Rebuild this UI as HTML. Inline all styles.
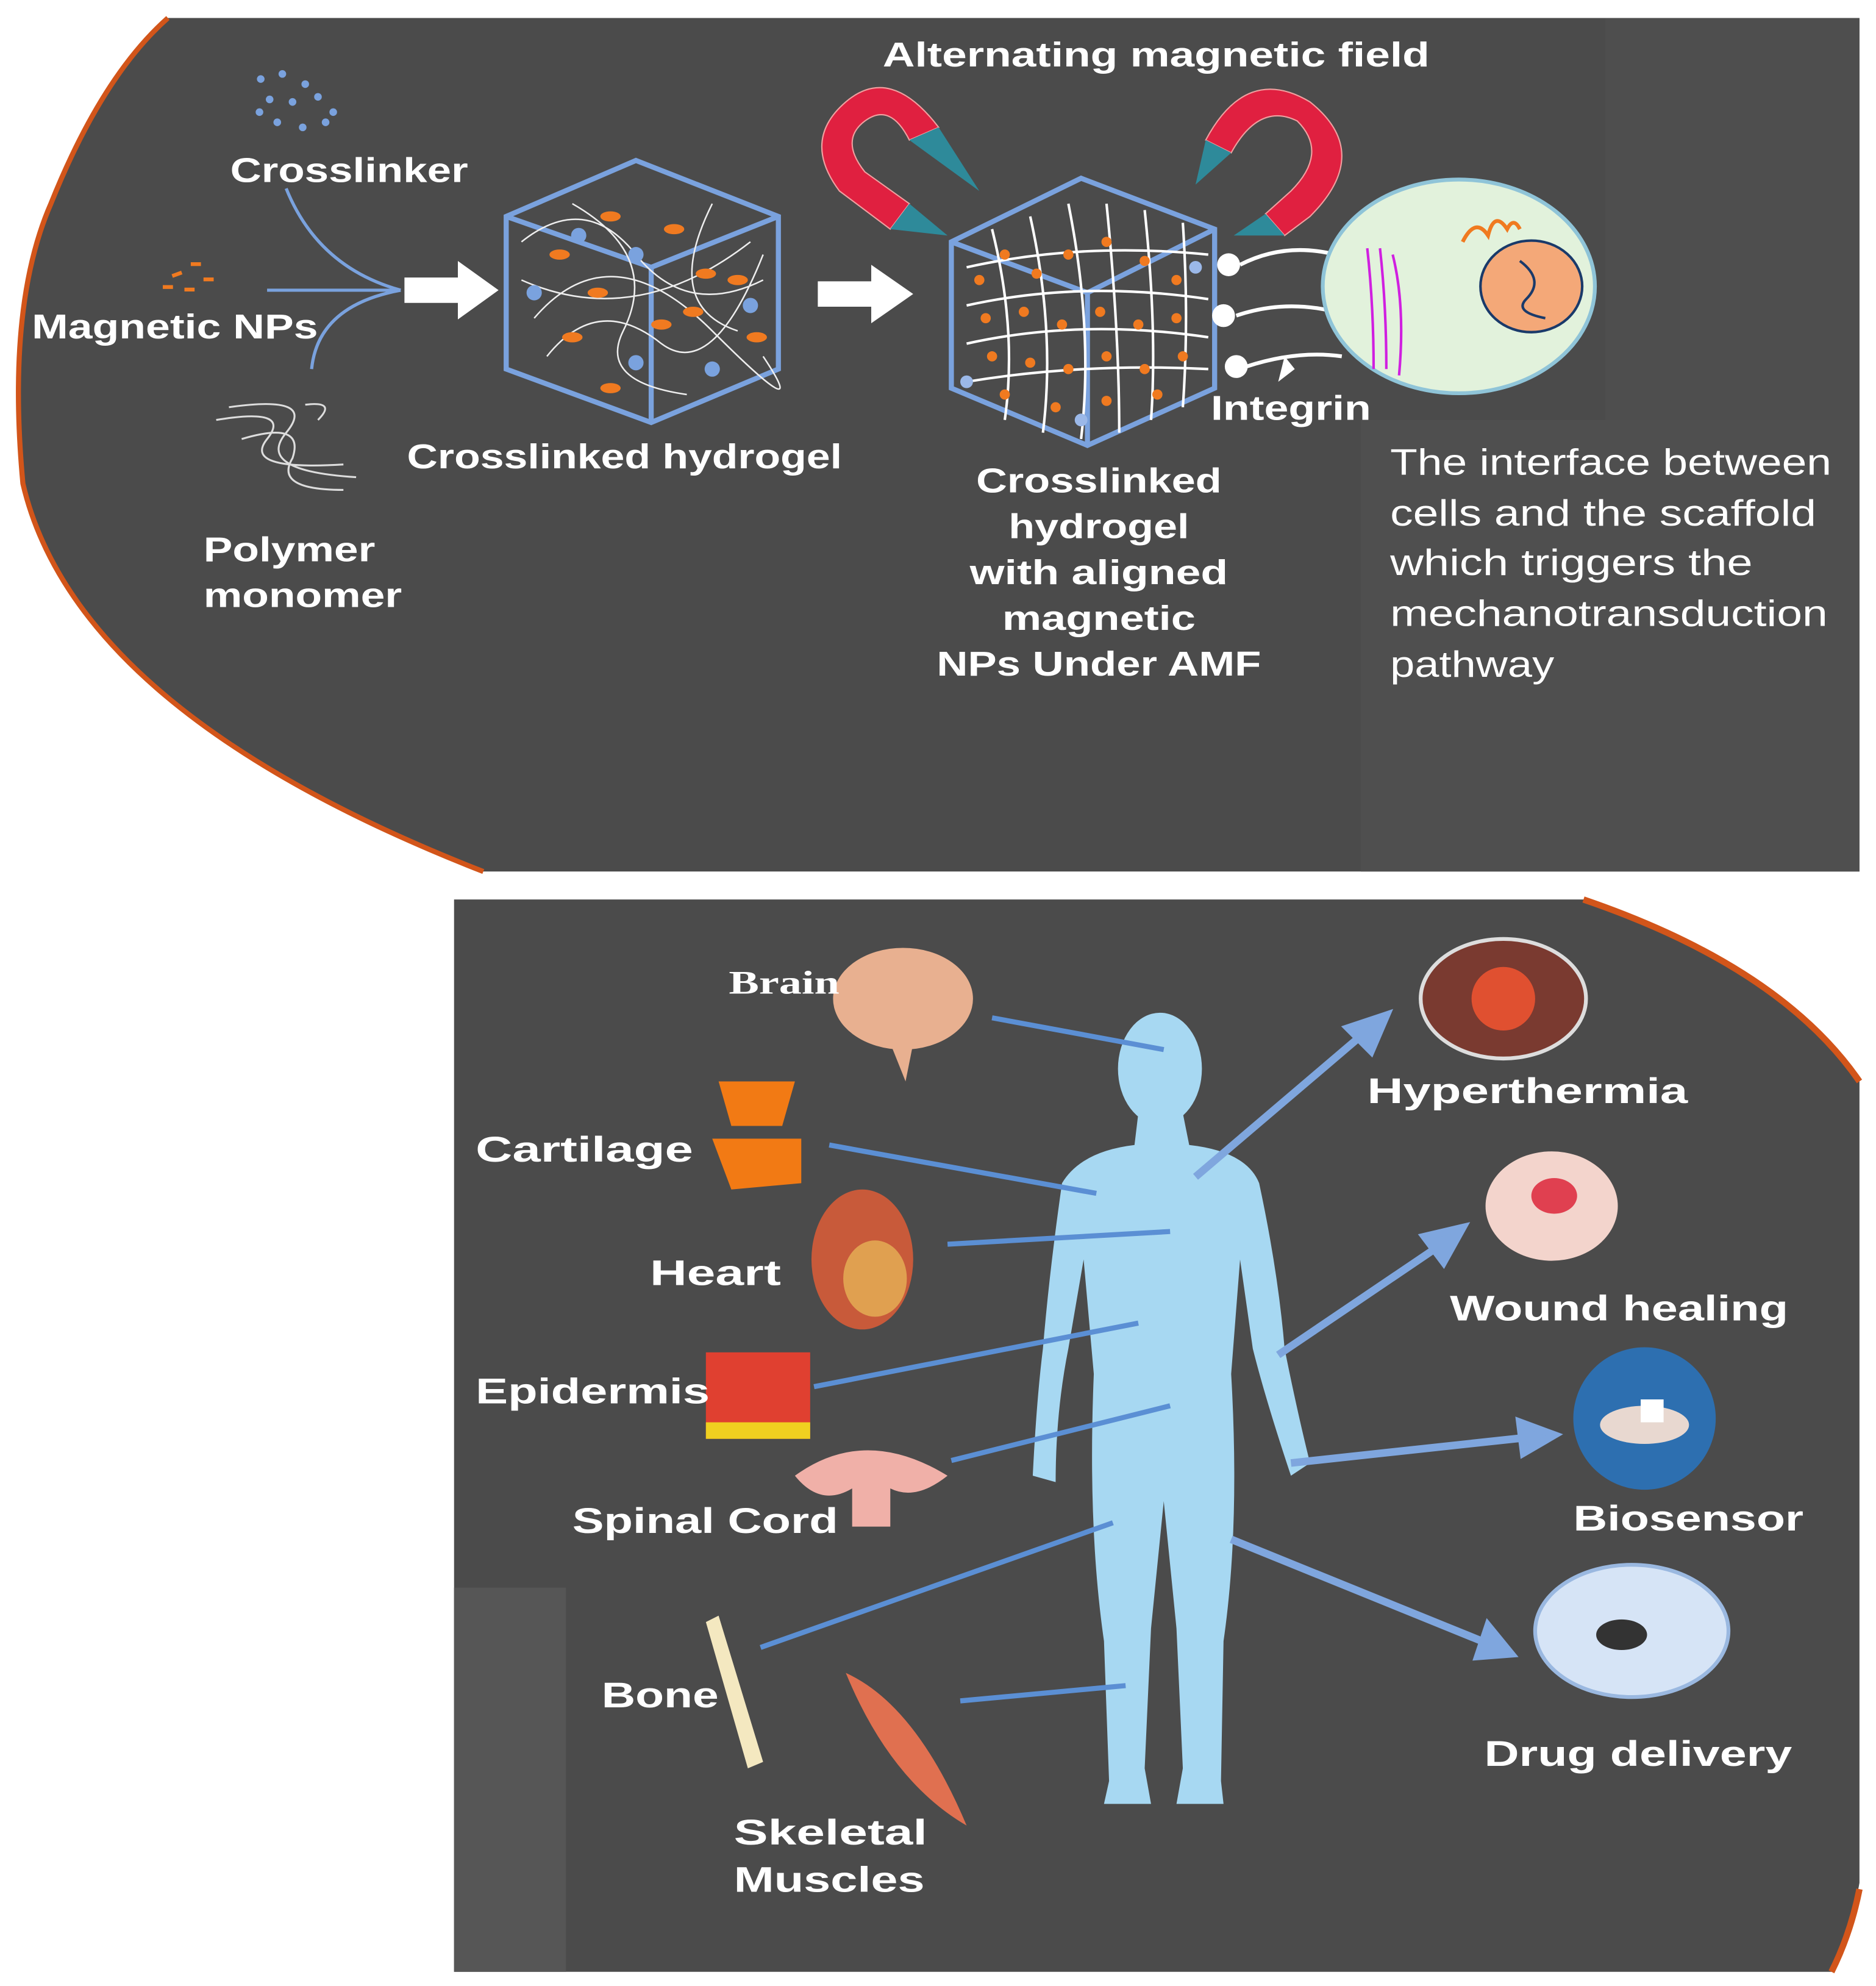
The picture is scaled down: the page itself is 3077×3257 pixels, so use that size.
<!DOCTYPE html>
<html><head><meta charset="utf-8"><style>
html,body{margin:0;padding:0;background:#fff}
svg{display:block}
text{font-family:"Liberation Sans",sans-serif;fill:#fff;font-weight:bold}
</style></head><body>
<svg width="3077" height="3257" viewBox="0 0 1475 1561" xmlns="http://www.w3.org/2000/svg">
<rect width="1475" height="1561" fill="#fff"/>
<!-- top panel -->
<path d="M132,14 L1462,14 L1462,685 L380,685 Q60,560 18,380 Q5,240 40,160 Q80,60 132,14 Z" fill="#4b4b4b"/>
<path d="M380,685 Q60,560 18,380 Q5,240 40,160 Q80,60 132,14" fill="none" stroke="#d2551a" stroke-width="4"/>
<rect x="1070" y="330" width="392" height="355" fill="#4f4f4f"/>
<rect x="1262" y="14" width="200" height="316" fill="#4e4e4e"/>
<!-- bottom panel -->
<path d="M357,707 L1245,707 Q1400,760 1462,850 L1462,1480 Q1455,1520 1440,1550 L357,1550 Z" fill="#4b4b4b"/>
<path d="M1245,707 Q1400,760 1462,850" fill="none" stroke="#d2551a" stroke-width="5"/>
<path d="M1462,1485 Q1455,1520 1440,1550" fill="none" stroke="#d2551a" stroke-width="5"/>
<rect x="357" y="1248" width="88" height="302" fill="#565656"/>

<!-- crosslinker dots -->
<g fill="#7aa2de">
<circle cx="205" cy="62" r="3"/><circle cx="222" cy="58" r="3"/><circle cx="240" cy="66" r="3"/><circle cx="212" cy="78" r="3"/><circle cx="230" cy="80" r="3"/><circle cx="250" cy="76" r="3"/><circle cx="262" cy="88" r="3"/><circle cx="218" cy="96" r="3"/><circle cx="238" cy="100" r="3"/><circle cx="256" cy="96" r="3"/><circle cx="204" cy="88" r="3"/>
</g>
<g fill="#f07a20"><rect x="135" y="214" width="8" height="3" transform="rotate(-20 139 215)"/><rect x="150" y="206" width="8" height="3"/><rect x="160" y="218" width="8" height="3"/><rect x="128" y="224" width="8" height="3"/><rect x="145" y="226" width="8" height="3"/></g>
<text x="181" y="143" font-size="27" textLength="187" lengthAdjust="spacingAndGlyphs">Crosslinker</text>
<text x="25" y="266" font-size="27" textLength="225" lengthAdjust="spacingAndGlyphs">Magnetic NPs</text>
<path d="M225,148 Q250,210 315,228 M210,228 L315,228 M245,290 Q250,240 315,228" fill="none" stroke="#7aa2de" stroke-width="2.5"/>
<path d="M318,218 L360,218 L360,205 L392,228 L360,251 L360,238 L318,238 Z" fill="#fff"/>
<g fill="none" stroke="#ddd" stroke-width="1.5"><path d="M170,330 Q230,320 210,345 Q190,370 270,365"/><path d="M180,320 Q250,310 225,340 Q200,370 280,375"/><path d="M190,345 Q240,330 230,360 Q215,385 270,385"/><path d="M240,318 Q265,315 250,330"/></g>
<text x="160" y="441" font-size="27" textLength="135" lengthAdjust="spacingAndGlyphs">Polymer</text>
<text x="160" y="477" font-size="27" textLength="156" lengthAdjust="spacingAndGlyphs">monomer</text>
<!-- cube 1 -->
<g fill="none" stroke="#7aa2de" stroke-width="4">
<path d="M398,170 L500,126 L612,170 L612,290 L512,332 L398,290 Z"/><path d="M398,170 L512,210 L612,170 M512,210 L512,332"/></g>
<g fill="none" stroke="#eee" stroke-width="1.2"><path d="M410,190 Q460,150 500,200 T600,220 M420,250 Q480,180 560,260 T600,280 M430,280 Q470,230 520,270 Q560,300 600,200 M450,160 Q520,200 490,260 Q470,300 540,310 M560,160 Q520,240 580,260 M410,220 Q500,260 590,190"/></g>
<g fill="#f07a20"><ellipse cx="440" cy="200" rx="8" ry="4"/><ellipse cx="480" cy="170" rx="8" ry="4"/><ellipse cx="530" cy="180" rx="8" ry="4"/><ellipse cx="470" cy="230" rx="8" ry="4"/><ellipse cx="545" cy="245" rx="8" ry="4"/><ellipse cx="580" cy="220" rx="8" ry="4"/><ellipse cx="450" cy="265" rx="8" ry="4"/><ellipse cx="520" cy="255" rx="8" ry="4"/><ellipse cx="595" cy="265" rx="8" ry="4"/><ellipse cx="480" cy="305" rx="8" ry="4"/><ellipse cx="555" cy="215" rx="8" ry="4"/></g>
<g fill="#7aa2de"><circle cx="420" cy="230" r="6"/><circle cx="500" cy="200" r="6"/><circle cx="590" cy="240" r="6"/><circle cx="500" cy="285" r="6"/><circle cx="560" cy="290" r="6"/><circle cx="455" cy="185" r="6"/></g>
<text x="320" y="368" font-size="27" textLength="342" lengthAdjust="spacingAndGlyphs">Crosslinked hydrogel</text>
<path d="M643,221 L685,221 L685,208 L718,231 L685,254 L685,241 L643,241 Z" fill="#fff"/>
<text x="694" y="52" font-size="27" textLength="430" lengthAdjust="spacingAndGlyphs">Alternating magnetic field</text>
<!-- magnets -->
<path d="M738,100 Q700,50 665,80 Q630,110 660,150 L700,180 L715,160 L680,135 Q660,110 680,95 Q700,80 715,110 Z" fill="#e02040" stroke="#f0a0a0" stroke-width="1"/>
<path d="M948,110 Q980,50 1030,80 Q1080,120 1030,170 L1010,185 L995,168 L1015,150 Q1045,120 1020,95 Q990,80 968,120 Z" fill="#e02040" stroke="#f0a0a0" stroke-width="1"/>
<g fill="#2e8a9a"><path d="M738,100 L715,110 L770,150 Z"/><path d="M700,180 L715,160 L745,185 Z"/><path d="M948,110 L968,120 L940,145 Z"/><path d="M995,168 L1010,185 L970,185 Z"/></g>
<!-- cube 2 -->
<g fill="none" stroke="#7aa2de" stroke-width="4">
<path d="M748,190 L850,140 L955,180 L955,305 L855,350 L748,305 Z"/><path d="M748,190 L855,230 L955,180 M855,230 L855,350"/></g>
<g fill="none" stroke="#fff" stroke-width="2">
<path d="M760,210 Q850,190 950,200 M760,240 Q850,220 950,235 M760,270 Q850,250 950,265 M760,300 Q850,285 950,290 M780,180 Q800,260 790,330 M810,170 Q830,260 820,340 M840,160 Q860,260 850,345 M870,160 Q880,260 880,340 M900,165 Q910,260 905,330 M930,175 Q935,250 930,320"/></g>
<g fill="#f07a20">
<circle cx="770" cy="220" r="4"/><circle cx="790" cy="200" r="4"/><circle cx="815" cy="215" r="4"/><circle cx="840" cy="200" r="4"/><circle cx="870" cy="190" r="4"/><circle cx="900" cy="205" r="4"/><circle cx="925" cy="220" r="4"/><circle cx="775" cy="250" r="4"/><circle cx="805" cy="245" r="4"/><circle cx="835" cy="255" r="4"/><circle cx="865" cy="245" r="4"/><circle cx="895" cy="255" r="4"/><circle cx="925" cy="250" r="4"/><circle cx="780" cy="280" r="4"/><circle cx="810" cy="285" r="4"/><circle cx="840" cy="290" r="4"/><circle cx="870" cy="280" r="4"/><circle cx="900" cy="290" r="4"/><circle cx="930" cy="280" r="4"/><circle cx="790" cy="310" r="4"/><circle cx="830" cy="320" r="4"/><circle cx="870" cy="315" r="4"/><circle cx="910" cy="310" r="4"/></g>
<g fill="#9bb8e8"><circle cx="760" cy="300" r="5"/><circle cx="850" cy="330" r="5"/><circle cx="940" cy="210" r="5"/></g>
<g fill="#fff"><circle cx="966" cy="208" r="9"/><circle cx="962" cy="248" r="9"/><circle cx="972" cy="288" r="9"/></g>
<g fill="none" stroke="#fff" stroke-width="3"><path d="M975,208 Q1010,190 1050,200"/><path d="M972,248 Q1010,235 1050,245"/><path d="M980,288 Q1020,275 1055,280"/></g>
<path d="M1005,300 L1018,290 L1010,280" fill="#fff"/>
<!-- cell -->
<ellipse cx="1147" cy="225" rx="107" ry="84" fill="#e2f2dc" stroke="#8fc4d8" stroke-width="3"/>
<path d="M1075,195 Q1080,240 1080,290 M1085,195 Q1090,240 1090,290 M1095,200 Q1105,240 1100,295" fill="none" stroke="#d020e0" stroke-width="2"/>
<ellipse cx="1204" cy="225" rx="40" ry="36" fill="#f4a878" stroke="#1a3a6a" stroke-width="2"/>
<path d="M1195,205 Q1215,220 1200,235 Q1190,245 1215,250" fill="none" stroke="#1a3a6a" stroke-width="2"/>
<path d="M1150,190 Q1160,170 1170,185 Q1175,165 1185,180 Q1190,170 1195,180" fill="none" stroke="#f07a20" stroke-width="3"/>
<text x="952" y="330" font-size="27" textLength="126" lengthAdjust="spacingAndGlyphs">Integrin</text>
<g font-size="27" text-anchor="middle"><text x="864" y="387" textLength="193" lengthAdjust="spacingAndGlyphs">Crosslinked</text><text x="864" y="423" textLength="142" lengthAdjust="spacingAndGlyphs">hydrogel</text><text x="864" y="459" textLength="203" lengthAdjust="spacingAndGlyphs">with aligned</text><text x="864" y="495" textLength="152" lengthAdjust="spacingAndGlyphs">magnetic</text><text x="864" y="531" textLength="255" lengthAdjust="spacingAndGlyphs">NPs Under AMF</text></g>
<g font-size="29"><text x="1093" y="373" style="font-weight:normal" textLength="347" lengthAdjust="spacingAndGlyphs">The interface between</text><text x="1093" y="413" style="font-weight:normal" textLength="335" lengthAdjust="spacingAndGlyphs">cells and the scaffold</text><text x="1093" y="452" style="font-weight:normal" textLength="285" lengthAdjust="spacingAndGlyphs">which triggers the</text><text x="1093" y="492" style="font-weight:normal" textLength="344" lengthAdjust="spacingAndGlyphs">mechanotransduction</text><text x="1093" y="532" style="font-weight:normal" textLength="129" lengthAdjust="spacingAndGlyphs">pathway</text></g>

<!-- body -->
<g fill="#a7d8f2">
<ellipse cx="912" cy="840" rx="33" ry="44"/>
<path d="M895,875 L930,875 L935,900 Q980,905 990,930 Q1005,1000 1010,1060 Q1020,1110 1030,1150 L1015,1160 Q995,1100 985,1060 L975,990 L968,1080 Q975,1200 962,1290 L960,1400 L962,1418 L925,1418 L930,1390 L925,1280 L915,1180 L905,1280 L900,1390 L905,1418 L868,1418 L872,1400 L868,1290 Q855,1200 860,1080 L852,990 L840,1060 Q830,1110 830,1165 L812,1160 Q815,1100 820,1060 Q825,1000 835,930 Q850,905 892,900 Z"/>
</g>
<!-- organ connectors -->
<g stroke="#5b8fd4" stroke-width="4" fill="none">
<path d="M780,800 L915,825"/><path d="M652,900 L862,938"/><path d="M745,978 L920,968"/><path d="M640,1090 L895,1040"/><path d="M748,1148 L920,1105"/><path d="M598,1295 L875,1197"/><path d="M755,1337 L885,1325"/>
</g>
<!-- app arrows -->
<g stroke="#7fa6de" stroke-width="6" fill="#7fa6de">
<path d="M940,925 L1075,810"/><path d="M1090,798 L1060,808 L1078,826 Z"/>
<path d="M1005,1065 L1138,975"/><path d="M1150,965 L1120,972 L1135,992 Z"/>
<path d="M1015,1150 L1200,1130"/><path d="M1222,1128 L1195,1118 L1198,1142 Z"/>
<path d="M968,1210 L1170,1292"/><path d="M1188,1300 L1170,1278 L1162,1302 Z"/>
</g>
<!-- app images -->
<ellipse cx="1182" cy="785" rx="65" ry="47" fill="#7a3a30" stroke="#ddd" stroke-width="3"/><circle cx="1182" cy="785" r="25" fill="#e05030"/>
<ellipse cx="1220" cy="948" rx="52" ry="43" fill="#f3d4cc"/><ellipse cx="1222" cy="940" rx="18" ry="14" fill="#e04050"/>
<circle cx="1293" cy="1115" r="56" fill="#2d6fb0"/><ellipse cx="1293" cy="1120" rx="35" ry="15" fill="#e8d8d0"/><rect x="1290" y="1100" width="18" height="18" fill="#fff"/>
<ellipse cx="1283" cy="1282" rx="76" ry="52" fill="#d6e4f6" stroke="#9ab8e0" stroke-width="3"/><ellipse cx="1275" cy="1285" rx="20" ry="12" fill="#333"/>
<g font-size="28"><text x="1075" y="867" textLength="252" lengthAdjust="spacingAndGlyphs">Hyperthermia</text><text x="1140" y="1038" textLength="266" lengthAdjust="spacingAndGlyphs">Wound healing</text><text x="1237" y="1203" textLength="181" lengthAdjust="spacingAndGlyphs">Biosensor</text><text x="1167" y="1388" textLength="242" lengthAdjust="spacingAndGlyphs">Drug delivery</text></g>
<!-- organs -->
<ellipse cx="710" cy="785" rx="55" ry="40" fill="#e8b090"/><path d="M700,820 L712,850 L718,820 Z" fill="#e8b090"/>
<path d="M565,850 L625,850 L615,885 L575,885 Z M560,895 L630,895 L630,930 L575,935 Z" fill="#f27a14"/>
<ellipse cx="678" cy="990" rx="40" ry="55" fill="#c85a3a"/><ellipse cx="688" cy="1005" rx="25" ry="30" fill="#e0a050"/>
<rect x="555" y="1063" width="82" height="68" fill="#e04030"/><rect x="555" y="1118" width="82" height="13" fill="#f0d020"/>
<path d="M625,1160 Q680,1120 745,1160 Q720,1180 700,1170 L700,1200 L670,1200 L670,1170 Q645,1185 625,1160 Z" fill="#f0b0a8"/>
<path d="M555,1275 L565,1270 L600,1385 L588,1390 Z" fill="#f4e8c0"/>
<path d="M665,1315 Q720,1340 760,1435 Q700,1400 665,1315 Z" fill="#e07050"/>
<text x="573" y="781" font-size="26" style="font-family:'Liberation Serif',serif" fill="#ddd" textLength="87" lengthAdjust="spacingAndGlyphs">Brain</text>
<g font-size="28"><text x="374" y="913" textLength="171" lengthAdjust="spacingAndGlyphs">Cartilage</text><text x="511" y="1010" textLength="103" lengthAdjust="spacingAndGlyphs">Heart</text><text x="374" y="1103" textLength="184" lengthAdjust="spacingAndGlyphs">Epidermis</text><text x="450" y="1205" textLength="209" lengthAdjust="spacingAndGlyphs">Spinal Cord</text><text x="473" y="1342" textLength="92" lengthAdjust="spacingAndGlyphs">Bone</text><text x="577" y="1450" textLength="152" lengthAdjust="spacingAndGlyphs">Skeletal</text><text x="577" y="1487" textLength="150" lengthAdjust="spacingAndGlyphs">Muscles</text></g>
</svg>
</body></html>
